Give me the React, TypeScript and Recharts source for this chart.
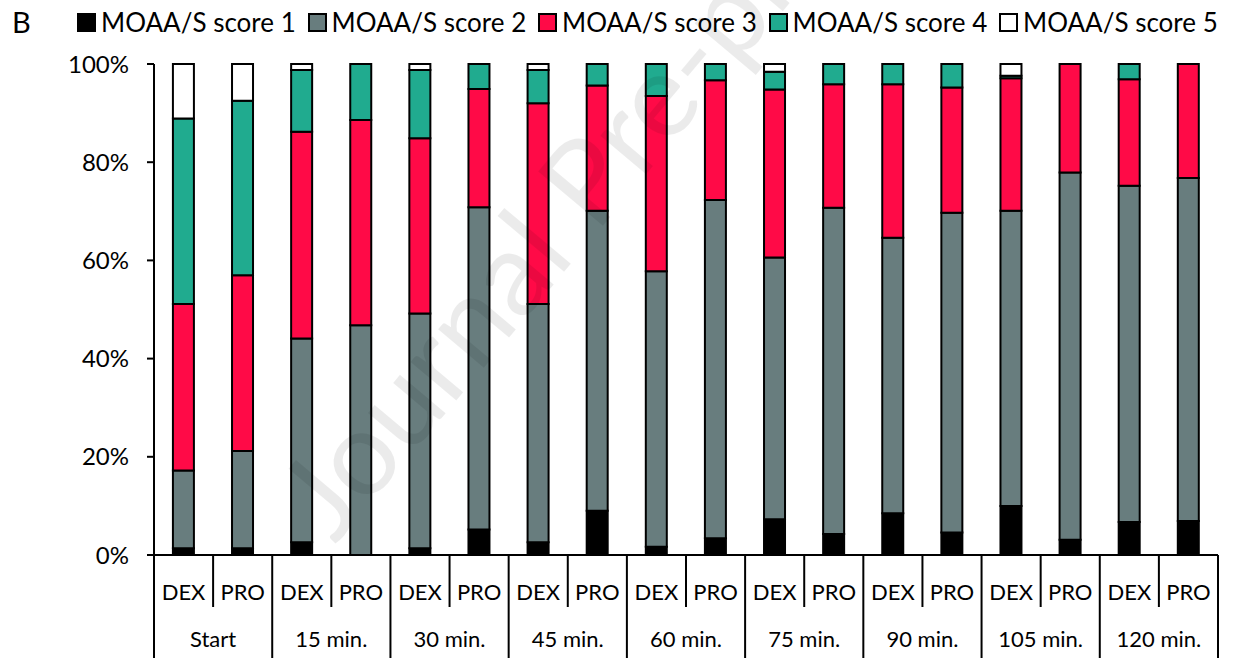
import React from 'react';
import { BarChart, Bar, XAxis, YAxis } from 'recharts';

// ── Data ─────────────────────────────────────────────────
const timepoints = ['Start', '15 min.', '30 min.', '45 min.', '60 min.', '75 min.', '90 min.', '105 min.', '120 min.'];
const arms = ['DEX', 'PRO'];

// share of patients (%) per MOAA/S score, order: DEX, PRO for each timepoint
const score1 = [1.4, 1.4, 2.6, 0, 1.4, 5.2, 2.6, 9.0, 1.7, 3.4, 7.3, 4.3, 8.5, 4.6, 10.0, 3.1, 6.7, 6.9];
const score2 = [15.8, 19.8, 41.5, 46.8, 47.8, 65.6, 48.5, 61.1, 56.1, 68.9, 53.3, 66.4, 56.1, 65.1, 60.1, 74.8, 68.5, 69.9];
const score3 = [33.9, 35.8, 42.1, 41.8, 35.7, 24.1, 40.9, 25.5, 35.7, 24.4, 34.2, 25.2, 31.3, 25.5, 27.0, 22.1, 21.7, 23.2];
const score4 = [37.8, 35.5, 12.6, 11.4, 13.9, 5.1, 6.8, 4.4, 6.5, 3.3, 3.6, 4.1, 4.1, 4.8, 0.5, 0, 3.1, 0];
const score5 = [11.1, 7.5, 1.2, 0, 1.2, 0, 1.2, 0, 0, 0, 1.6, 0, 0, 0, 2.4, 0, 0, 0];

const yTicks = [0, 20, 40, 60, 80, 100];

const series = [
  { key: 's1', name: 'MOAA/S score 1', color: '#000000' },
  { key: 's2', name: 'MOAA/S score 2', color: '#687d7e' },
  { key: 's3', name: 'MOAA/S score 3', color: '#ff0a47' },
  { key: 's4', name: 'MOAA/S score 4', color: '#20ab8f' },
  { key: 's5', name: 'MOAA/S score 5', color: '#ffffff' },
];

const rows = score1.map((_, i) => ({
  id: `${timepoints[Math.floor(i / 2)]}|${arms[i % 2]}`,
  time: timepoints[Math.floor(i / 2)],
  arm: arms[i % 2],
  s1: score1[i],
  s2: score2[i],
  s3: score3[i],
  s4: score4[i],
  s5: score5[i],
}));

// ── Layout ───────────────────────────────────────────────
const W = 1233;
const H = 658;
const MARGIN = { top: 64, right: 15, left: 0, bottom: 0 };
const Y_AXIS_W = 154;
const X_AXIS_H = 103;
const BAND = (W - MARGIN.left - MARGIN.right - Y_AXIS_W) / rows.length;
const FONT = 'Lato, "Open Sans", sans-serif';

// two-row category tick: arm label + separators, group label under each pair
function GroupedTick(props: any) {
  const { x, y, index } = props;
  const row = rows[index];
  const half = BAND / 2;
  const first = index % 2 === 0;
  const last = index === rows.length - 1;
  return (
    <g>
      <text x={x} y={y + 45} textAnchor="middle" fontSize={22} fontFamily={FONT} fill="#000">
        {row.arm}
      </text>
      {first && <line x1={x - half} x2={x - half} y1={y} y2={y + 103} stroke="#000" strokeWidth={2} />}
      {first && <line x1={x + half} x2={x + half} y1={y} y2={y + 52} stroke="#000" strokeWidth={2} />}
      {first && (
        <text x={x + half} y={y + 92} textAnchor="middle" fontSize={22} fontFamily={FONT} fill="#000">
          {row.time}
        </text>
      )}
      {last && <line x1={x + half} x2={x + half} y1={y} y2={y + 103} stroke="#000" strokeWidth={2} />}
    </g>
  );
}

function LegendRow() {
  return (
    <div style={{ position: 'absolute', left: 77, top: 6, display: 'flex', fontFamily: FONT, fontSize: 26 }}>
      {series.map((s) => (
        <div key={s.key} style={{ width: 230.5, display: 'flex', alignItems: 'center', whiteSpace: 'nowrap' }}>
          <span
            style={{
              width: 15,
              height: 15,
              background: s.color,
              border: '2px solid #000',
              marginRight: 5,
              flex: 'none',
            }}
          />
          <span>{s.name}</span>
        </div>
      ))}
    </div>
  );
}

export default function App() {
  return (
    <div style={{ position: 'absolute', left: 0, top: 0, width: W, height: H, background: '#fff', fontFamily: FONT }}>
      <LegendRow />
      <BarChart width={W} height={H} data={rows} margin={MARGIN} barCategoryGap="32%">
        <XAxis
          dataKey="id"
          interval={0}
          height={X_AXIS_H}
          tickLine={false}
          tickSize={0}
          tickMargin={0}
          axisLine={{ stroke: '#000', strokeWidth: 2 }}
          tick={<GroupedTick />}
        />
        <YAxis
          width={Y_AXIS_W}
          domain={[0, 100]}
          ticks={yTicks}
          tickFormatter={(v: number) => `${v}%`}
          axisLine={{ stroke: '#000', strokeWidth: 2 }}
          tickLine={{ stroke: '#000', strokeWidth: 2 }}
          tickSize={7}
          tickMargin={18}
          tick={{ fill: '#000', fontSize: 24, fontFamily: FONT }}
        />
        {series.map((s) => (
          <Bar
            key={s.key}
            dataKey={s.key}
            name={s.name}
            stackId="moaas"
            fill={s.color}
            stroke="#000"
            strokeWidth={2}
            isAnimationActive={false}
          />
        ))}
      </BarChart>
      <svg width={W} height={H} style={{ position: 'absolute', left: 0, top: 0, pointerEvents: 'none' }}>
        {/* panel letter */}
        <text x={12} y={33} fontSize={29} fontFamily={FONT} fill="#000">
          B
        </text>
        {/* diagonal "Journal Pre-proof" watermark */}
        <text
          x={335}
          y={545}
          transform="rotate(-50 335 545)"
          fontSize={118}
          fontFamily={FONT}
          fill="#000"
          fillOpacity={0.08}
        >
          Journal Pre-proof
        </text>
      </svg>
    </div>
  );
}
